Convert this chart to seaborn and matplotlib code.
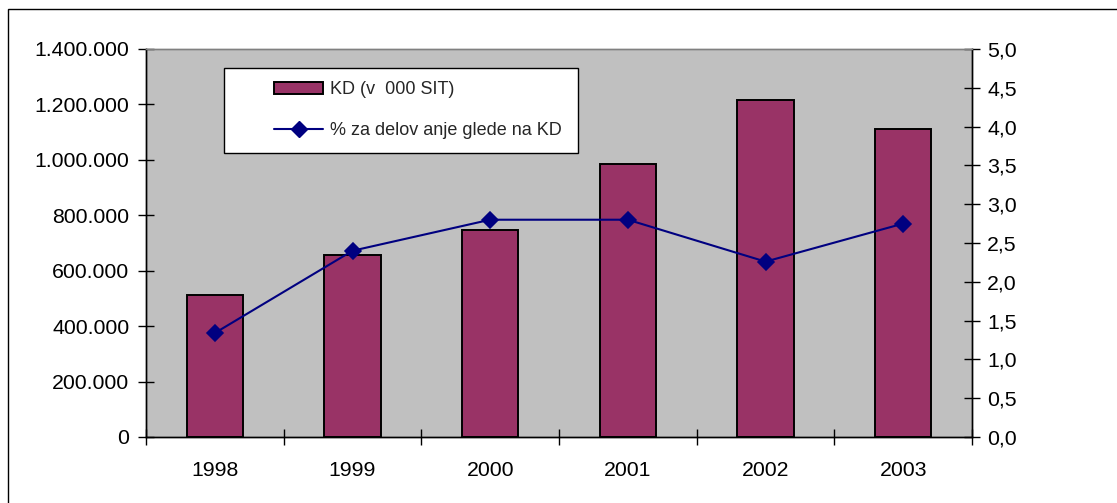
import matplotlib
matplotlib.use("Agg")
import matplotlib.pyplot as plt
from matplotlib.ticker import FuncFormatter, MultipleLocator, FixedLocator
from matplotlib.patches import Rectangle, Patch
from matplotlib.lines import Line2D
import seaborn as sns
import pandas as pd
import numpy as np

years = ["1998", "1999", "2000", "2001", "2002", "2003"]
kd_values = [512000, 657000, 747000, 986000, 1217000, 1110000]
pct_values = [1.34, 2.40, 2.80, 2.80, 2.26, 2.75]
bar_label = "KD (v  000 SIT)"
line_label = "% za delov anje glede na KD"

sns.set_theme(style="white")
plt.rcParams['font.family'] = ['Liberation Sans', 'DejaVu Sans']

W, H = 1117, 503
fig = plt.figure(figsize=(W / 100, H / 100), dpi=100)
fig.patch.set_facecolor("white")

L, R, T, B = 146, 972, 49, 437
ax = fig.add_axes([L / W, 1 - B / H, (R - L) / W, (B - T) / H])
ax.set_facecolor("#C0C0C0")

df = pd.DataFrame({"year": years, "kd": kd_values, "pct": pct_values})

sns.barplot(data=df, x="year", y="kd", order=years, color="#993366",
            width=0.41, edgecolor="black", linewidth=1.4, saturation=1, ax=ax)

ax2 = ax.twinx()
sns.pointplot(data=df, x="year", y="pct", order=years, color="#000080",
              markers="D", linestyles="-", markersize=8, linewidth=1.5, ax=ax2)

ax.set_xlim(-0.5, len(years) - 0.5)
ax.set_ylim(0, 1400000)
ax2.set_ylim(0, 5)

ax.yaxis.set_major_locator(MultipleLocator(200000))
ax.yaxis.set_major_formatter(FuncFormatter(lambda v, p: f"{int(round(v)):,}".replace(",", ".")))
ax2.yaxis.set_major_locator(MultipleLocator(0.5))
ax2.yaxis.set_major_formatter(FuncFormatter(lambda v, p: f"{v:.1f}".replace(".", ",")))

ax.set_xlabel("")
ax.set_ylabel("")
ax2.set_ylabel("")
ax2.set_xlabel("")

fs = 15.3
ax.tick_params(axis="y", which="major", direction="inout", length=12, width=1,
               color="black", labelsize=fs, labelcolor="black", pad=6, left=True)
ax2.tick_params(axis="y", which="major", direction="inout", length=12, width=1,
                color="black", labelsize=fs, labelcolor="black", pad=5, right=True)
ax.tick_params(axis="x", which="major", length=0, labelsize=fs, labelcolor="black", pad=17)
ax.xaxis.set_minor_locator(FixedLocator(np.arange(-0.5, len(years), 1.0)))
ax.tick_params(axis="x", which="minor", direction="inout", length=12, width=1,
               color="black", bottom=True)
ax2.tick_params(axis="x", which="both", bottom=False, top=False, labelbottom=False)

for a in (ax, ax2):
    a.spines["top"].set_color("#808080")
    a.spines["left"].set_color("black")
    a.spines["right"].set_color("black")
    a.spines["bottom"].set_color("black")
    for s in a.spines.values():
        s.set_linewidth(1)
ax2.patch.set_visible(False)

# legend box
def fx(px):
    return px / W

def fy(py):
    return 1 - py / H

fig.patches.append(Rectangle((fx(224), fy(153)), fx(578) - fx(224), fy(68) - fy(153),
                             transform=fig.transFigure, facecolor="white",
                             edgecolor="black", linewidth=1, zorder=5))
handles = [Patch(facecolor="#993366", edgecolor="black", linewidth=1.4),
           Line2D([0], [0], color="#000080", marker="D", markersize=8, linewidth=1.5)]
leg = fig.legend(handles, [bar_label, line_label], loc="upper left",
                 bbox_to_anchor=(fx(260), fy(67)), frameon=False, fontsize=13,
                 handlelength=2.7, handletextpad=0.4, labelspacing=1.33,
                 borderpad=0.3)
leg.set_zorder(6)

# outer chart frame
fig.patches.append(Rectangle((fx(8), -0.2), 1.3, fy(9) + 0.2,
                             transform=fig.transFigure, facecolor="none",
                             edgecolor="black", linewidth=1, zorder=1))

fig.savefig("out.png", dpi=100)
